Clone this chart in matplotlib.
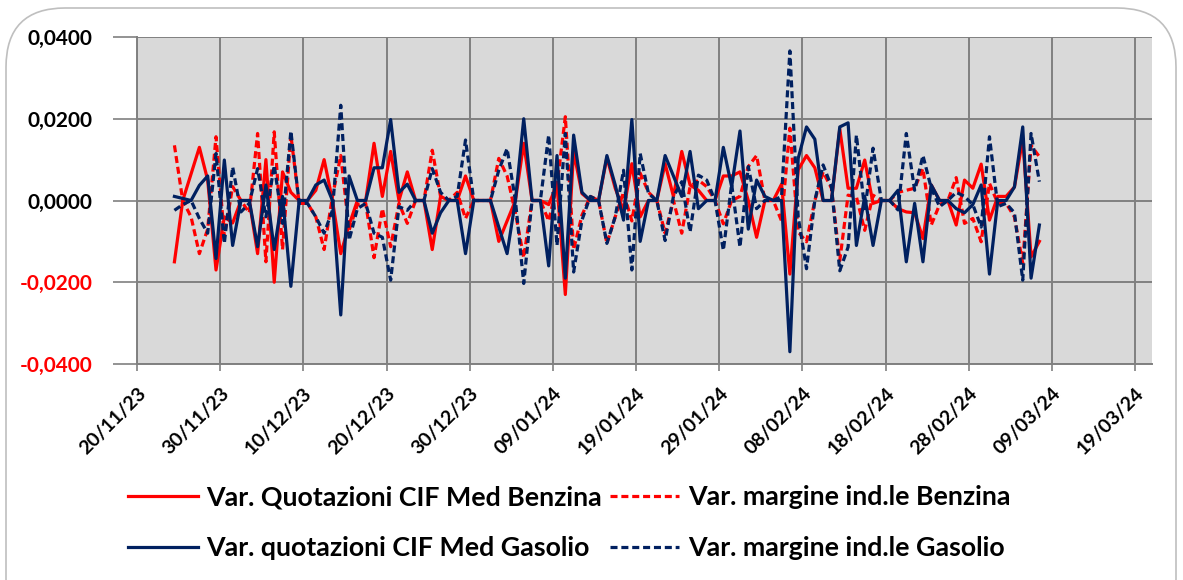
import matplotlib
matplotlib.use('Agg')
import matplotlib.pyplot as plt
import matplotlib.dates as mdates
import matplotlib.transforms as mtransforms
from matplotlib.patches import FancyBboxPatch
from matplotlib.lines import Line2D
import pandas as pd

plt.rcParams['font.family'] = ['Lato', 'DejaVu Sans']

# daily observations, 24/11/23 -> 07/03/24
dates = pd.date_range('2023-11-24 12:00', periods=105, freq='D')

benzina_cif = [
    -0.015, 0.000, 0.0065, 0.013, 0.005, -0.017, -0.004, -0.0055, 0.000, 0.000,
    -0.013, 0.010, -0.020, 0.007, 0.002, 0.000, 0.000, 0.0025, 0.010, 0.000,
    -0.013, -0.006, 0.000, 0.000, 0.014, 0.001, 0.012, 0.000, 0.007, 0.000,
    0.000, -0.012, 0.001, 0.000, 0.000, 0.006, 0.000, 0.000, 0.000, -0.010,
    -0.005, 0.000, 0.014, 0.000, 0.000, -0.001, 0.004, -0.023, 0.012, 0.0017,
    0.000, 0.000, 0.0105, 0.003, -0.0024, 0.009, -0.004, 0.000, 0.000, 0.009,
    0.001, 0.012, 0.0038, 0.0025, 0.000, 0.000, 0.006, 0.006, 0.007, 0.000,
    -0.009, 0.000, 0.000, 0.004, -0.018, 0.0075, 0.011, 0.008, 0.000, 0.000,
    0.0175, 0.003, 0.003, 0.0099, -0.0007, 0.000, 0.000, -0.002, -0.0028, -0.003,
    -0.0093, 0.0038, 0.000, 0.000, -0.006, 0.005, 0.003, 0.0089, -0.0048, 0.001,
    0.001, 0.0033, 0.015, -0.0138, -0.010,
]

benzina_margine = [
    0.0135, 0.000, -0.004, -0.013, -0.007, 0.0156, -0.0088, 0.0034, 0.000, -0.003,
    0.0164, -0.015, 0.0168, -0.012, 0.016, -0.0007, -0.0007, -0.004, -0.012, 0.001,
    0.011, -0.0073, -0.001, -0.0007, -0.014, -0.002, -0.0113, -0.0007, -0.0056, 0.000,
    0.000, 0.0123, 0.001, 0.000, 0.002, -0.0044, 0.000, 0.000, 0.000, 0.0103,
    0.006, -0.003, -0.014, 0.000, 0.000, -0.005, 0.0037, 0.0205, -0.012, -0.0036,
    0.001, 0.000, -0.0105, -0.004, 0.002, -0.005, 0.0067, 0.002, 0.000, -0.008,
    0.000, -0.008, 0.0034, 0.005, 0.0034, 0.000, -0.0057, 0.000, 0.001, 0.0083,
    0.011, 0.000, 0.000, -0.005, 0.0177, -0.0077, -0.0101, 0.000, 0.007, 0.003,
    -0.0147, 0.0013, 0.0009, -0.0073, 0.0013, 0.000, 0.000, 0.002, 0.0025, 0.003,
    0.0078, -0.006, -0.001, 0.000, 0.0056, -0.0056, -0.0044, -0.0101, 0.0042, -0.0007,
    -0.0007, -0.004, -0.0154, 0.0135, 0.0107,
]

gasolio_cif = [
    0.001, 0.0005, 0.000, 0.0037, 0.006, -0.0142, 0.0099, -0.011, 0.000, 0.000,
    -0.0113, 0.0038, -0.012, 0.001, -0.021, 0.000, 0.000, 0.0038, 0.005, 0.000,
    -0.028, 0.006, 0.000, 0.000, 0.008, 0.008, 0.0198, 0.002, 0.004, 0.000,
    0.000, -0.008, -0.003, 0.000, 0.000, -0.013, 0.000, 0.000, 0.000, -0.0065,
    -0.013, 0.000, 0.020, 0.000, 0.000, -0.016, 0.011, -0.019, 0.016, 0.002,
    0.000, 0.000, 0.011, 0.0038, -0.0048, 0.0198, -0.010, 0.000, 0.000, 0.011,
    0.006, 0.001, 0.012, -0.002, 0.000, 0.000, 0.013, 0.0034, 0.017, -0.007,
    0.005, 0.001, 0.000, 0.000, -0.037, 0.0103, 0.018, 0.015, 0.000, 0.000,
    0.018, 0.019, -0.011, 0.001, -0.011, 0.000, 0.000, 0.0025, -0.015, -0.0007,
    -0.015, 0.0038, 0.000, 0.000, -0.002, -0.003, -0.001, 0.0038, -0.018, 0.000,
    0.000, 0.0033, 0.018, -0.019, -0.006,
]

gasolio_margine = [
    -0.0024, -0.001, 0.000, -0.0044, -0.008, 0.0115, -0.0105, 0.0082, -0.0028, -0.0007,
    0.0078, -0.004, 0.0086, -0.0056, 0.017, -0.0007, -0.0007, -0.004, -0.008, -0.0024,
    0.0233, -0.0097, -0.002, -0.0007, -0.008, -0.009, -0.0195, -0.0015, -0.0024, 0.000,
    0.000, 0.0078, 0.002, 0.000, 0.001, 0.0148, 0.000, 0.000, 0.000, 0.0074,
    0.0127, 0.000, -0.0203, 0.000, 0.000, 0.016, -0.011, 0.0164, -0.0175, -0.0048,
    0.001, 0.000, -0.0105, -0.004, 0.0074, -0.017, 0.0115, 0.0017, 0.000, -0.0098,
    0.001, 0.0046, -0.0077, 0.0062, 0.005, 0.000, -0.0122, 0.004, -0.0114, 0.0083,
    -0.002, 0.000, 0.000, 0.001, 0.0366, -0.004, -0.0167, 0.000, 0.0087, 0.0034,
    -0.0172, -0.0114, 0.016, -0.0024, 0.0128, 0.000, 0.000, -0.0023, 0.0164, 0.0025,
    0.011, 0.003, -0.0015, 0.000, 0.002, 0.001, -0.001, -0.0065, 0.0156, -0.0015,
    -0.0007, -0.003, -0.0195, 0.0164, 0.0046,
]

labels = ['Var. Quotazioni CIF Med Benzina', 'Var. margine ind.le Benzina',
          'Var. quotazioni CIF Med Gasolio', 'Var. margine ind.le Gasolio']

RED = '#ff0000'
NAVY = '#002060'
GRID = '#808080'
DASH = (0, (2.2, 1.2))

W, H = 1183, 580
fig = plt.figure(figsize=(W / 100, H / 100), dpi=100)

# rounded frame around the chart
frame = FancyBboxPatch((6 / W, -0.1), 1170 / W, (H - 8) / H + 0.1,
                       boxstyle='round,pad=0,rounding_size=0.05',
                       transform=fig.transFigure, facecolor='white',
                       edgecolor='#bfbfbf', linewidth=1.2, mutation_aspect=W / H,
                       zorder=-10)
fig.patches.append(frame)

ax = fig.add_axes([137 / W, 1 - 364 / H, (1152 - 137) / W, (364 - 37) / H])
ax.set_zorder(2)
ax.set_facecolor('#d9d9d9')

lw = 2.3
ax.plot(dates, benzina_cif, color=RED, lw=lw, zorder=3)
ax.plot(dates, benzina_margine, color=RED, lw=lw, ls=DASH, zorder=3)
ax.plot(dates, gasolio_cif, color=NAVY, lw=lw, zorder=4)
ax.plot(dates, gasolio_margine, color=NAVY, lw=lw, ls=DASH, zorder=4)

ax.set_ylim(-0.04, 0.04)
yticks = [-0.04, -0.02, 0.0, 0.02, 0.04]
ax.set_yticks(yticks)
ax.set_yticklabels([f'{v:.4f}'.replace('.', ',') for v in yticks])

start = pd.Timestamp('2023-11-20')
ax.set_xlim(start, pd.Timestamp('2024-03-21 01:00'))
ax.set_xticks(pd.date_range(start, periods=13, freq='10D'))
ax.xaxis.set_major_formatter(mdates.DateFormatter('%d/%m/%y'))

ax.grid(True, color=GRID, lw=1.4, zorder=1)
ax.set_axisbelow(True)
for s in ['top', 'right']:
    ax.spines[s].set_visible(False)
for s in ['left', 'bottom']:
    ax.spines[s].set_color(GRID)
    ax.spines[s].set_linewidth(1.4)

ax.tick_params(axis='y', length=17, width=1.2, color=GRID, pad=15,
               labelsize=15)
ax.tick_params(axis='x', length=5, width=1.2, color=GRID, pad=14,
               labelsize=14)
for v, t in zip(yticks, ax.get_yticklabels()):
    t.set_fontweight('bold')
    t.set_color(RED if v < 0 else 'black')
shift = mtransforms.ScaledTranslation(6 / 100, 0, fig.dpi_scale_trans)
for t in ax.get_xticklabels():
    t.set_fontweight('bold')
    t.set_rotation(45)
    t.set_ha('right')
    t.set_va('center')
    t.set_rotation_mode('anchor')
    t.set_transform(t.get_transform() + shift)

# legend filled column-wise, so order handles to read row by row
handles = [Line2D([], [], color=RED, lw=lw),
           Line2D([], [], color=NAVY, lw=lw),
           Line2D([], [], color=RED, lw=lw, ls=DASH),
           Line2D([], [], color=NAVY, lw=lw, ls=DASH)]
order = [labels[0], labels[2], labels[1], labels[3]]
leg = fig.legend(handles, order, ncol=2, loc='upper left',
                 bbox_to_anchor=(104 / W, 1 - 461 / H), frameon=False,
                 prop={'weight': 'bold', 'size': 19.3},
                 handlelength=2.6, handletextpad=0.32, columnspacing=0.28,
                 labelspacing=1.0)

fig.savefig('out.png', dpi=100)
